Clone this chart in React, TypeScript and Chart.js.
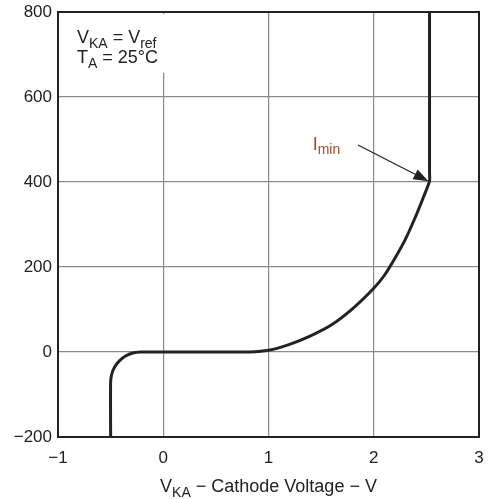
import React, { useEffect, useRef } from "react";
import { Chart, registerables } from "chart.js";

Chart.register(...registerables);

const curveX = [-0.5, -0.5, -0.49, -0.462, -0.417, -0.358, -0.289, -0.215, -0.1, 0.3, 0.6, 0.82, 1.0, 1.2, 1.4, 1.6, 1.8, 2.0, 2.1, 2.2, 2.3, 2.4, 2.47, 2.53, 2.53, 2.53];
const curveY = [-200, -71, -52.6, -35.5, -20.8, -9.5, -2.4, 0, 0, 0, 0, 0, 4, 18, 38, 64, 102, 150, 180, 220, 265, 320, 363, 402, 420, 800];
const xTicks = [-1, 0, 1, 2, 3];
const yTicks = [-200, 0, 200, 400, 600, 800];
const arrowTail = [1.85, 487];
const arrowTip = [2.52, 402];

const FONT = "'Liberation Sans', Arial, sans-serif";

function drawSub(ctx: CanvasRenderingContext2D, parts: [string, boolean][], x: number, y: number, size: number, align: "left" | "center") {
  const subSize = Math.round(size * 0.78);
  let total = 0;
  for (const [t, sub] of parts) {
    ctx.font = `${sub ? subSize : size}px ${FONT}`;
    total += ctx.measureText(t).width;
  }
  let cx = align === "center" ? x - total / 2 : x;
  ctx.textAlign = "left";
  ctx.textBaseline = "alphabetic";
  for (const [t, sub] of parts) {
    ctx.font = `${sub ? subSize : size}px ${FONT}`;
    ctx.fillText(t, cx, sub ? y + size * 0.25 : y);
    cx += ctx.measureText(t).width;
  }
}

const overlay = {
  id: "overlay",
  beforeDatasetsDraw(chart: any) {
    const ctx = chart.ctx;
    const x = chart.scales.x;
    const y = chart.scales.y;
    ctx.save();
    ctx.fillStyle = "#fff";
    const l = chart.chartArea.left;
    ctx.fillRect(l + 2, chart.chartArea.top + 2, x.getPixelForValue(0) + 6 - l - 2, y.getPixelForValue(690) - chart.chartArea.top + 12);
    ctx.restore();
  },
  afterDraw(chart: any) {
    const ctx = chart.ctx;
    const x = chart.scales.x;
    const y = chart.scales.y;
    const ca = chart.chartArea;
    ctx.save();
    ctx.strokeStyle = "#222";
    ctx.lineWidth = 2;
    ctx.strokeRect(ca.left, ca.top, ca.right - ca.left, ca.bottom - ca.top);
    ctx.fillStyle = "#222";
    drawSub(ctx, [["V", false], ["KA", true], [" = V", false], ["ref", true]], x.getPixelForValue(-0.82), y.getPixelForValue(726), 18, "left");
    drawSub(ctx, [["T", false], ["A", true], [" = 25°C", false]], x.getPixelForValue(-0.82), y.getPixelForValue(679), 18, "left");
    ctx.fillStyle = "#a34a28";
    drawSub(ctx, [["I", false], ["min", true]], x.getPixelForValue(1.42), y.getPixelForValue(476), 18, "left");
    const tx = x.getPixelForValue(arrowTail[0]);
    const ty = y.getPixelForValue(arrowTail[1]);
    const hx = x.getPixelForValue(arrowTip[0]);
    const hy = y.getPixelForValue(arrowTip[1]);
    const ang = Math.atan2(hy - ty, hx - tx);
    const len = 15, w = 5.5;
    const bx = hx - len * Math.cos(ang);
    const by = hy - len * Math.sin(ang);
    ctx.strokeStyle = "#222";
    ctx.lineWidth = 1.2;
    ctx.beginPath();
    ctx.moveTo(tx, ty);
    ctx.lineTo(bx, by);
    ctx.stroke();
    ctx.fillStyle = "#222";
    ctx.beginPath();
    ctx.moveTo(hx, hy);
    ctx.lineTo(bx + w * Math.sin(ang), by - w * Math.cos(ang));
    ctx.lineTo(bx - w * Math.sin(ang), by + w * Math.cos(ang));
    ctx.closePath();
    ctx.fill();
    ctx.fillStyle = "#222";
    drawSub(ctx, [["V", false], ["KA", true], [" − Cathode Voltage − V", false]], (ca.left + ca.right) / 2, 492, 18, "center");
    ctx.restore();
  },
};

export default function App() {
  const ref = useRef<HTMLCanvasElement>(null);
  useEffect(() => {
    document.body.style.margin = "0";
    const data = curveX.map((v, i) => ({ x: v, y: curveY[i] }));
    const chart = new Chart(ref.current!, {
      type: "line",
      data: {
        datasets: [
          {
            data,
            borderColor: "#222",
            borderWidth: 3,
            pointRadius: 0,
            tension: 0.25,
            fill: false,
          },
        ],
      },
      options: {
        animation: false,
        responsive: false,
        maintainAspectRatio: false,
        layout: { padding: { top: 12, right: 17, left: 0, bottom: 0 } },
        plugins: { legend: { display: false }, tooltip: { enabled: false } },
        scales: {
          x: {
            type: "linear",
            min: -1,
            max: 3,
            afterBuildTicks: (s: any) => { s.ticks = xTicks.map((v) => ({ value: v })); },
            afterFit: (s: any) => { s.height = 62; s.paddingLeft = 0; s.paddingRight = 0; },
            grid: { color: "#8a8a8a", lineWidth: 1.2, drawTicks: false },
            border: { display: false },
            ticks: {
              padding: 11,
              color: "#222",
              font: { family: FONT, size: 17 },
              callback: (v: any) => String(v).replace("-", "−"),
            },
          },
          y: {
            type: "linear",
            min: -200,
            max: 800,
            afterBuildTicks: (s: any) => { s.ticks = yTicks.map((v) => ({ value: v })); },
            afterFit: (s: any) => { s.width = 58; s.paddingTop = 0; s.paddingBottom = 0; },
            grid: { color: "#8a8a8a", lineWidth: 1.2, drawTicks: false },
            border: { display: false },
            ticks: {
              padding: 6,
              color: "#222",
              font: { family: FONT, size: 17 },
              callback: (v: any) => String(v).replace("-", "−"),
            },
          },
        },
      },
      plugins: [overlay],
    });
    return () => chart.destroy();
  }, []);
  return (
    <div style={{ width: 496, height: 499 }}>
      <canvas ref={ref} width={496} height={499} style={{ display: "block" }} />
    </div>
  );
}
